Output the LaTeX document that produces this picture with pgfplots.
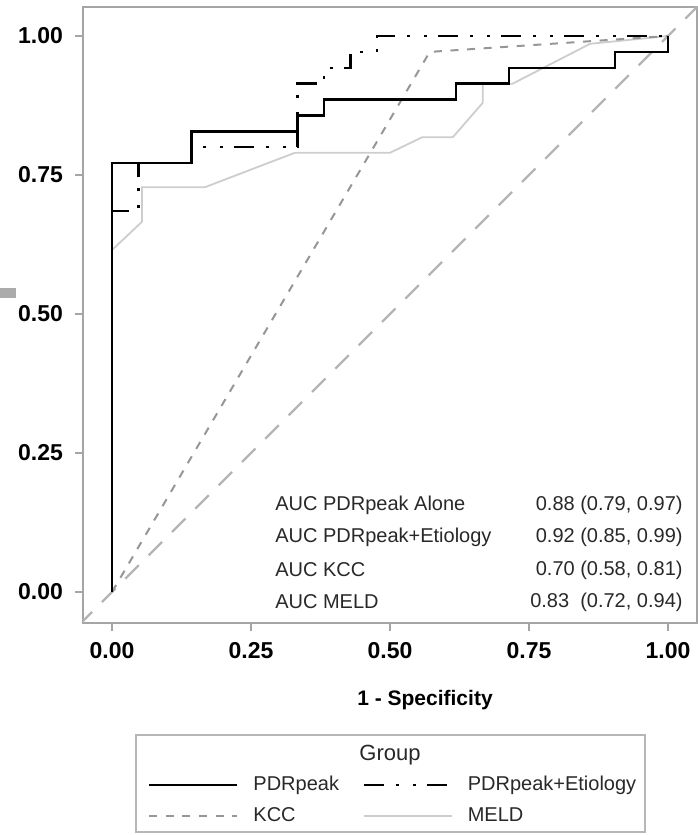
\documentclass[border=0pt]{standalone}
\usepackage{fontspec}
\setmainfont{Liberation Sans}
\usepackage{pgfplots}
\pgfplotsset{compat=1.18}

\definecolor{framegray}{RGB}{165,165,165}
\definecolor{kccgray}{RGB}{150,150,150}
\definecolor{meldgray}{RGB}{205,205,205}
\definecolor{refgray}{RGB}{180,180,180}
\definecolor{txt}{RGB}{40,40,40}

\begin{document}
\begin{tikzpicture}
\begin{axis}[
  name=ax,
  scale only axis,
  width=307pt, height=308pt,
  xmin=-0.0522, xmax=1.0522,
  ymin=-0.0558, ymax=1.0522,
  xtick={0,0.25,0.5,0.75,1},
  ytick={0,0.25,0.5,0.75,1},
  xticklabels={0.00,0.25,0.50,0.75,1.00},
  yticklabels={0.00,0.25,0.50,0.75,1.00},
  xtick pos=bottom, ytick pos=left,
  tick align=outside,
  major tick length=4pt,
  axis line style={framegray, line width=1pt},
  tick style={framegray, line width=1pt},
  tick label style={font=\fontsize{11.5}{12}\selectfont\bfseries, text=black},
  xticklabel style={yshift=-2pt},
  yticklabel style={xshift=-2.5pt},
  legend columns=2,
  legend cell align=left,
  legend style={draw=none, fill=none, at={(0.1059,-0.2435)}, anchor=north west,
    inner sep=0pt, outer sep=0pt, row sep=3.5pt,
    nodes={inner xsep=2pt, inner ysep=1pt, text height=7.5pt, text depth=2.5pt,
      font=\fontsize{10}{12}\selectfont, text=txt},
    /tikz/every odd column/.append style={column sep=5.5pt},
    /tikz/every even column/.append style={column sep=9.7pt}},
  legend image code/.code={\draw[#1] (0pt,0pt) -- (44pt,0pt);},
]

% legend images
\addlegendimage{black, line width=1.2pt}
\addlegendentry{PDRpeak}
\addlegendimage{black, line width=1.2pt, dash pattern=on 10pt off 6pt on 1.5pt off 7pt on 1.5pt off 5.5pt}
\addlegendentry{PDRpeak+Etiology}
\addlegendimage{kccgray, line width=1pt, dash pattern=on 4pt off 4.3pt}
\addlegendentry{KCC}
\addlegendimage{meldgray, line width=0.9pt}
\addlegendentry{MELD}

% reference diagonal
\addplot[refgray, line width=1.2pt, dash pattern=on 9.5pt off 7pt, forget plot]
  coordinates {(-0.06,-0.06) (1.06,1.06)};

% MELD
\addplot[meldgray, line width=0.9pt, forget plot] coordinates {
(0,0) (0,0.615) (0.054,0.666) (0.054,0.728) (0.167,0.728) (0.329,0.790)
(0.500,0.790) (0.558,0.818) (0.613,0.818) (0.667,0.880) (0.667,0.914)
(0.720,0.914) (0.860,0.986) (1,1)};

% KCC
\addplot[kccgray, line width=1pt, dash pattern=on 4pt off 4.3pt, forget plot] coordinates {
(0,0) (0.5714,0.9714) (1,1)};

% PDRpeak+Etiology
\addplot[black, line width=1.2pt, dash pattern=on 10pt off 6pt on 1.5pt off 7pt on 1.5pt off 5.5pt, forget plot] coordinates {
(0,0) (0,0.6857) (0.0476,0.6857) (0.0476,0.7714) (0.1429,0.7714) (0.1429,0.8000)
(0.3333,0.8000) (0.3333,0.9143) (0.3810,0.9143) (0.3810,0.9429) (0.4286,0.9429)
(0.4286,0.9714) (0.4762,0.9714) (0.4762,1) (1,1)};

% PDRpeak
\addplot[black, line width=1.2pt, forget plot] coordinates {
(0,0) (0,0.7714) (0.1429,0.7714) (0.1429,0.8286) (0.3333,0.8286) (0.3333,0.8571)
(0.3810,0.8571) (0.3810,0.8857) (0.6190,0.8857) (0.6190,0.9143) (0.7143,0.9143)
(0.7143,0.9429) (0.9048,0.9429) (0.9048,0.9714) (1,0.9714) (1,1)};

% AUC table
\begin{scope}[every node/.style={font=\fontsize{10}{12}\selectfont, text=txt, inner sep=0pt}]
\node[anchor=west] at (axis cs:0.293,0.1565) {AUC PDRpeak Alone};
\node[anchor=west] at (axis cs:0.293,0.0989) {AUC PDRpeak+Etiology};
\node[anchor=west] at (axis cs:0.293,0.0396) {AUC KCC};
\node[anchor=west] at (axis cs:0.293,-0.018) {AUC MELD};
\node[anchor=east] at (axis cs:1.027,0.1565) {0.88 (0.79, 0.97)};
\node[anchor=east] at (axis cs:1.027,0.0989) {0.92 (0.85, 0.99)};
\node[anchor=east] at (axis cs:1.027,0.0396) {0.70 (0.58, 0.81)};
\node[anchor=east] at (axis cs:1.027,-0.018) {0.83\ \ (0.72, 0.94)};
\end{scope}
\end{axis}

\node[font=\fontsize{10.5}{12}\selectfont\bfseries] at ([shift={(171pt,-38.5pt)}]ax.south west) {1 - Specificity};
\draw[framegray!80, line width=0.8pt] ([shift={(26.5pt,-56pt)}]ax.south west) rectangle ([shift={(281pt,-104.5pt)}]ax.south west);
\node[font=\fontsize{11}{13}\selectfont, text=txt] at ([shift={(153.5pt,-66pt)}]ax.south west) {Group};
\fill[black!33] ([shift={(-41.5pt,162.5pt)}]ax.south west) rectangle ([shift={(-33.5pt,167.5pt)}]ax.south west);

\pgfresetboundingbox
\path ([shift={(-41.5pt,-106pt)}]ax.south west) rectangle ([shift={(307pt,311.5pt)}]ax.south west);
\end{tikzpicture}
\end{document}
